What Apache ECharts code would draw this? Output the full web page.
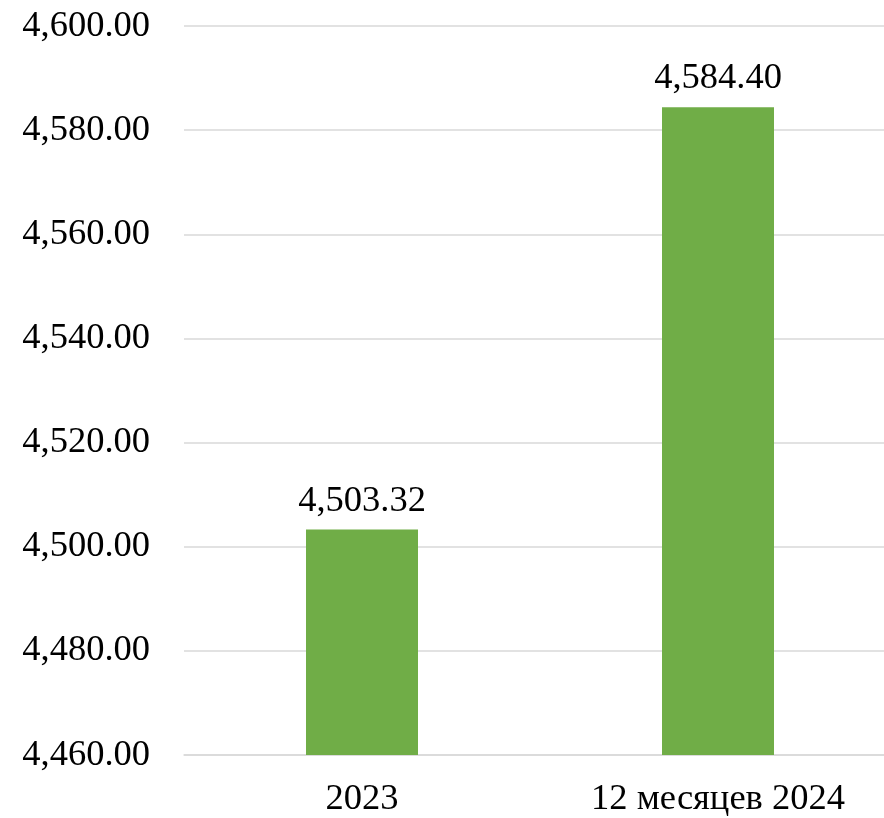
<!DOCTYPE html>
<html><head><meta charset="utf-8">
<script src="https://cdn.jsdelivr.net/npm/echarts@6/dist/echarts.min.js"></script>
<style>html,body{margin:0;padding:0;background:#fff;overflow:hidden;width:884px;height:818px}#c{width:896px;height:818px}</style>
</head><body><div id="c"></div>
<script>
const categories = ['2023', '12 месяцев 2024'];
const values = [4503.32, 4584.40];
const yMin = 4460, yMax = 4600, yStep = 20;

function fmt(v){
  return v.toLocaleString('en-US',{minimumFractionDigits:2,maximumFractionDigits:2});
}
const chart = echarts.init(document.getElementById('c'));
const font = '"Liberation Serif", "Times New Roman", serif';
const fs = 36.5;
chart.setOption({
  animation:false,
  grid:{left:184,right:0,top:26,bottom:62},
  xAxis:{type:'category',data:categories,
    axisLine:{lineStyle:{color:'#d9d9d9',width:1.5}},
    axisTick:{show:false},
    axisLabel:{color:'#000',fontFamily:font,fontSize:fs,margin:26}},
  yAxis:{type:'value',min:yMin,max:yMax,interval:yStep,
    axisLine:{show:false},axisTick:{show:false},
    splitLine:{lineStyle:{color:'#d9d9d9',width:1.5}},
    axisLabel:{color:'#000',fontFamily:font,fontSize:fs,margin:34,formatter:fmt}},
  series:[{type:'bar',data:values,barWidth:112,
    itemStyle:{color:'#70AD47'},
    label:{show:true,position:'top',distance:10,color:'#000',fontFamily:font,fontSize:fs,formatter:p=>fmt(p.value)}}]
});
</script></body></html>
